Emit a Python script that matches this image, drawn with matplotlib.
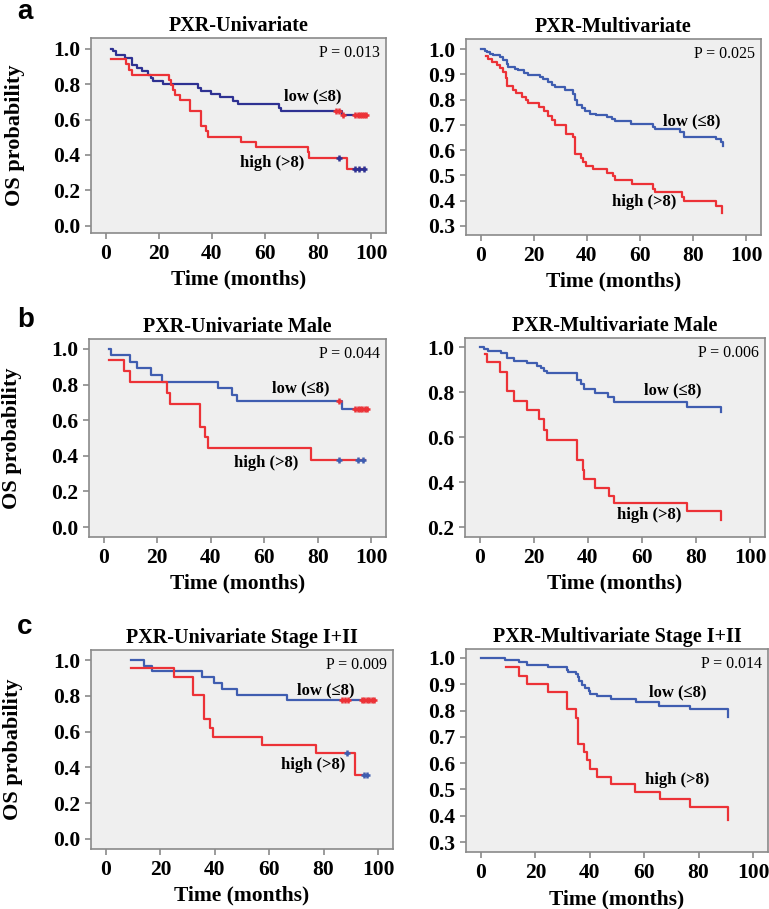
import numpy as np
import matplotlib
matplotlib.use("Agg")
import matplotlib.pyplot as plt

SERIF = ['Liberation Serif', 'DejaVu Serif']
plt.rcParams['font.family'] = SERIF

NAVY = '#2e3192'
BLUE = '#3f5db0'
RED = '#ec3237'

# ---- a: PXR-Univariate ----
a1_low_t = [2, 2.9, 3.75, 7.25, 10, 11.9, 13.75, 16, 17.25, 18, 21.6, 34.75, 36, 39.75,
            42.9, 47.9, 49.75, 65.1, 66, 88.9]
a1_low_s = [1.0, 0.985, 0.966, 0.949, 0.91, 0.891, 0.872, 0.853, 0.835, 0.818, 0.80, 0.78,
            0.761, 0.744, 0.726, 0.707, 0.686, 0.667, 0.648, 0.624]
a1_low_end = 97.9
a1_low_cens = [86.8, 87.8, 89.2, 94, 94.8, 95.6, 96.4, 97.2, 97.9]
a1_high_t = [2, 7.6, 8.75, 10, 23.9, 24.75, 25.4, 26.25, 27.9, 31.6, 35.75, 37.6, 38.5,
             51, 56.6, 76, 76.6, 91]
a1_high_s = [0.94, 0.915, 0.882, 0.852, 0.821, 0.793, 0.765, 0.737, 0.712, 0.647, 0.562,
             0.536, 0.504, 0.474, 0.444, 0.417, 0.385, 0.323]
a1_high_end = 97.5
a1_high_cens = [87.9, 94, 95.2, 97.2]

# ---- a: PXR-Multivariate ----
a2_low_t = [0, 1.6, 2.3, 3.5, 4.8, 7.3, 8.5, 9.8, 10.4, 12.9, 14.2, 16.4, 17.9, 22.3, 23.6,
            25.2, 26.7, 28, 31.7, 34.6, 35.7, 36.1, 38, 39.2, 41.1, 43.6, 47.7, 49.6, 50.5,
            56.5, 64.9, 65.5, 74.9, 76.4, 88.7, 90.3, 91.2]
a2_low_s = [1.0, 0.993, 0.987, 0.98, 0.975, 0.967, 0.957, 0.943, 0.93, 0.922, 0.916, 0.906,
            0.896, 0.888, 0.88, 0.869, 0.859, 0.848, 0.84, 0.822, 0.80, 0.78, 0.765, 0.753,
            0.744, 0.739, 0.732, 0.723, 0.715, 0.702, 0.691, 0.682, 0.673, 0.653, 0.643,
            0.634, 0.618]
a2_low_end = 91.2
a2_high_t = [2, 2.9, 4.1, 6.3, 7.3, 8.5, 9.4, 10, 12.3, 13.5, 15.7, 16.9, 17.7, 22.1, 23.9,
             25.2, 26.7, 28, 32.1, 34.8, 35.7, 37.7, 38.6, 39.8, 42.4, 47.7, 49.9, 50.5,
             56.8, 64.9, 65.8, 75.9, 76.6, 88.7, 90.9]
a2_high_s = [0.972, 0.959, 0.947, 0.939, 0.926, 0.909, 0.884, 0.854, 0.84, 0.827, 0.811,
             0.798, 0.785, 0.772, 0.755, 0.736, 0.719, 0.70, 0.664, 0.653, 0.585, 0.568,
             0.552, 0.539, 0.525, 0.511, 0.498, 0.48, 0.465, 0.448, 0.433, 0.416, 0.40,
             0.379, 0.35]
a2_high_end = 90.9

# ---- b: PXR-Univariate Male ----
b1_low_t = [1.9, 2.7, 10, 12.5, 17.8, 21.8, 42.8, 48, 49.9, 89.2]
b1_low_s = [1.0, 0.966, 0.929, 0.891, 0.854, 0.816, 0.779, 0.742, 0.706, 0.665]
b1_low_end = 98.5
b1_low_cens = [87.9, 94, 94.9, 95.8, 96.7, 97.6, 98.5]
b1_high_t = [1.9, 7.7, 9.7, 23.7, 24.6, 35.8, 37.8, 38.9, 77.3]
b1_high_s = [0.94, 0.878, 0.816, 0.755, 0.689, 0.564, 0.504, 0.442, 0.376]
b1_high_end = 97.6
b1_high_cens = [87.9, 95, 96.9]

# ---- b: PXR-Multivariate Male ----
b2_low_t = [0, 1.6, 3.1, 8, 10, 12.7, 17.6, 21.1, 22.6, 23.8, 24.7, 35.8, 37.4, 38.6,
            42.5, 47.5, 49.7, 76.8, 89.1]
b2_low_s = [1.0, 0.993, 0.982, 0.972, 0.95, 0.938, 0.927, 0.917, 0.905, 0.895, 0.883,
            0.853, 0.834, 0.813, 0.794, 0.776, 0.757, 0.735, 0.71]
b2_low_end = 89.1
b2_high_t = [1.8, 2.5, 7.5, 9.9, 12.7, 17.6, 21.7, 23.8, 24.7, 35.8, 38, 38.6, 42.5,
             47.8, 49.7, 76.8, 89.1]
b2_high_s = [0.967, 0.932, 0.89, 0.806, 0.761, 0.72, 0.679, 0.631, 0.587, 0.498, 0.453,
             0.412, 0.372, 0.338, 0.305, 0.273, 0.231]
b2_high_end = 89.1

# ---- c: PXR-Univariate Stage I+II ----
c1_low_t = [9.3, 14.1, 17, 35.2, 39.7, 42.8, 48.1, 66.4]
c1_low_s = [1.0, 0.968, 0.939, 0.907, 0.874, 0.84, 0.805, 0.775]
c1_low_end = 99
c1_low_cens = [86.8, 87.8, 88.8, 94, 94.9, 95.8, 96.7, 97.6, 98.5]
c1_high_t = [9.3, 25, 32.1, 36, 38.1, 39.4, 57.2, 77.2, 91.4]
c1_high_s = [0.953, 0.903, 0.807, 0.669, 0.621, 0.572, 0.526, 0.478, 0.359]
c1_high_end = 95.9
c1_high_cens = [88.5, 95, 95.9]

# ---- c: PXR-Multivariate Stage I+II ----
c2_low_t = [0, 8.8, 14, 16.8, 24.8, 31.7, 32, 34.8, 35.7, 36, 37.2, 38.4, 39.6, 40.2,
            42.7, 47.8, 57, 65.6, 76.8, 90.9]
c2_low_s = [1.0, 0.991, 0.985, 0.975, 0.964, 0.955, 0.945, 0.938, 0.926, 0.911, 0.898,
            0.885, 0.873, 0.864, 0.854, 0.843, 0.831, 0.818, 0.805, 0.777]
c2_low_end = 90.9
c2_high_t = [9.1, 14, 16.8, 24.8, 31.7, 34.8, 35.7, 37.8, 39, 39.9, 42.7, 47.8, 56.7,
             65.9, 76.8, 90.9]
c2_high_s = [0.967, 0.933, 0.90, 0.869, 0.805, 0.771, 0.673, 0.644, 0.61, 0.577, 0.548,
             0.519, 0.491, 0.462, 0.434, 0.383]
c2_high_end = 90.9

x_ticks = [0, 20, 40, 60, 80, 100]


def km(ax, t, s, end, color, cens=None, cens_color=None):
    t = list(t) + [end]
    s = list(s) + [s[-1]]
    ax.step(t, s, where='post', color=color, lw=1.6, zorder=3)
    if cens:
        # censor ticks sit on the curve at their time
        idx = np.searchsorted(t, cens, side='right') - 1
        ys = np.array(s)[idx]
        ax.plot(cens, ys, linestyle='none', marker='+', ms=4.5, mew=1.8,
                color=cens_color, zorder=4)


def panel(rect, title, pval, yticks, ylim, low_xy, high_xy, ylabel):
    W, H = 769, 909
    l, r, t, b = rect
    ax = fig.add_axes([l / W, 1 - b / H, (r - l) / W, (b - t) / H])
    ax.set_facecolor('#efefef')
    for sp in ax.spines.values():
        sp.set_color('#8a8a8a')
        sp.set_linewidth(1.2)
    ax.set_xlim(-5.5, 105.5)
    ax.set_ylim(*ylim)
    ax.set_xticks(x_ticks)
    ax.set_yticks(yticks)
    ax.set_yticklabels(['%.1f' % v for v in yticks])
    ax.tick_params(color='#8a8a8a', length=4, width=1.2, pad=4, labelsize=15.5)
    for lab in ax.get_xticklabels() + ax.get_yticklabels():
        lab.set_fontweight('bold')
    ax.set_title(title, fontsize=14.5, fontweight='bold', pad=5)
    ax.text(0.98, 0.965, 'P = ' + pval, transform=ax.transAxes, ha='right', va='top',
            fontsize=11.5)
    ax.text(low_xy[0], low_xy[1], 'low (≤8)', ha='center', va='center', fontsize=12,
            fontweight='bold', family=SERIF)
    ax.text(high_xy[0], high_xy[1], 'high (>8)', ha='center', va='center', fontsize=12,
            fontweight='bold')
    ax.set_xlabel('Time (months)', fontsize=15.5, fontweight='bold')
    ax.xaxis.set_label_coords(0.5, -0.185, transform=ax.transAxes)
    ax.xaxis.label.set_va('top')
    if ylabel:
        ax.set_ylabel('OS probability', fontsize=16, fontweight='bold')
        ax.yaxis.set_label_coords(-0.225, 0.5, transform=ax.transAxes)
    return ax


fig = plt.figure(figsize=(7.69, 9.09), dpi=100)

ax = panel((91, 386, 38, 233), 'PXR-Univariate', '0.013', np.arange(0, 1.01, 0.2),
           (-0.04, 1.06), (78, 0.73), (62.5, 0.357), True)
km(ax, a1_low_t, a1_low_s, a1_low_end, NAVY, a1_low_cens, RED)
km(ax, a1_high_t, a1_high_s, a1_high_end, RED, a1_high_cens, NAVY)

ax = panel((466, 761, 39, 235), 'PXR-Multivariate', '0.025', np.arange(0.3, 1.01, 0.1),
           (0.264, 1.04), (79.6, 0.713), (61.7, 0.394), False)
km(ax, a2_low_t, a2_low_s, a2_low_end, BLUE)
km(ax, a2_high_t, a2_high_s, a2_high_end, RED)

ax = panel((89, 386, 339, 537), 'PXR-Univariate Male', '0.044', np.arange(0, 1.01, 0.2),
           (-0.056, 1.056), (73.6, 0.779), (60.7, 0.358), True)
km(ax, b1_low_t, b1_low_s, b1_low_end, BLUE, b1_low_cens, RED)
km(ax, b1_high_t, b1_high_s, b1_high_end, RED, b1_high_cens, BLUE)

ax = panel((465, 765, 338, 537), 'PXR-Multivariate Male', '0.006', np.arange(0.2, 1.01, 0.2),
           (0.156, 1.04), (71.5, 0.809), (62.5, 0.254), False)
km(ax, b2_low_t, b2_low_s, b2_low_end, BLUE)
km(ax, b2_high_t, b2_high_s, b2_high_end, RED)

ax = panel((91, 393, 650, 849), 'PXR-Univariate Stage I+II', '0.009', np.arange(0, 1.01, 0.2),
           (-0.056, 1.056), (80.6, 0.833), (76.1, 0.414), True)
km(ax, c1_low_t, c1_low_s, c1_low_end, BLUE, c1_low_cens, RED)
km(ax, c1_high_t, c1_high_s, c1_high_end, RED, c1_high_cens, BLUE)

ax = panel((466, 768, 649, 852), 'PXR-Multivariate Stage I+II', '0.014',
           np.arange(0.3, 1.01, 0.1), (0.262, 1.034), (72.2, 0.869), (72, 0.535), False)
km(ax, c2_low_t, c2_low_s, c2_low_end, BLUE)
km(ax, c2_high_t, c2_high_s, c2_high_end, RED)

# panel letters
for letter, ypix in [('a', 19), ('b', 327), ('c', 634)]:
    fig.text(17 / 769, 1 - ypix / 909, letter, fontsize=20, fontweight='bold',
             family=['Liberation Sans', 'DejaVu Sans'], ha='left', va='baseline')

fig.savefig('out.png', dpi=100)
